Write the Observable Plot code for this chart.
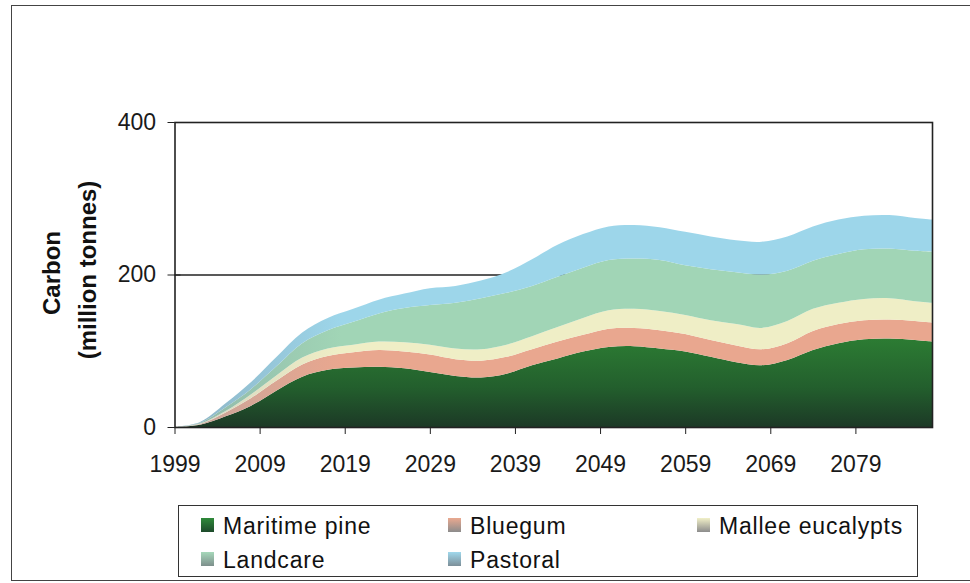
<!DOCTYPE html>
<html>
<head>
<meta charset="utf-8">
<script src="https://cdn.jsdelivr.net/npm/d3@7"></script>
<script src="https://cdn.jsdelivr.net/npm/@observablehq/plot@0.6"></script>
<style>
  body { margin: 0; background: #fff; font-family: "Liberation Sans", Arial, sans-serif; }
  #wrap { position: relative; width: 970px; height: 583px; overflow: hidden; }
  #frame { position: absolute; left: 11px; top: 5px; width: 970px; height: 576px; border: 1.5px solid #444; box-sizing: border-box; }
  #chart { position: absolute; left: 0; top: 0; }
  #legend { position: absolute; left: 178px; top: 505px; width: 740px; height: 72px; border: 1.5px solid #333; box-sizing: border-box; }
  .sw { position: absolute; width: 13px; height: 14px; }
  .lt { position: absolute; font-size: 23px; line-height: 23px; color: #111; white-space: nowrap; letter-spacing: 0.8px; }
</style>
</head>
<body>
<div id="wrap">
  <div id="frame"></div>
  <div id="chart"></div>
  <div id="legend"></div>
</div>
<script>
// Carbon stored by planting type, million tonnes per projection year
const years        = [1999, 2002, 2005, 2008, 2011, 2014, 2017, 2020, 2023, 2026, 2029, 2032, 2035, 2038, 2041, 2044, 2047, 2050, 2053, 2056, 2059, 2062, 2065, 2068, 2071, 2074, 2077, 2080, 2083, 2086, 2088];
const maritimePine = [0, 3, 14, 28, 48, 66, 75, 78, 79, 77, 72, 67, 65, 70, 81, 90, 99, 105, 106, 103, 99, 92, 85, 81, 88, 101, 110, 115, 116, 114, 112];
const bluegum      = [0, 1, 5, 10, 13, 16, 18, 20, 22, 22, 23, 22, 22, 22, 21, 22, 22, 24, 24, 24, 23, 22, 22, 21, 22, 25, 25, 25, 25, 25, 25];
const mallee       = [0, 0.5, 2, 5, 7, 9, 10, 10, 11, 12, 13, 14, 15, 16, 17, 19, 22, 24, 25, 25, 25, 26, 28, 28, 29, 29, 28, 28, 28, 26, 26];
const landcare     = [0, 1, 5, 7, 12, 19, 24, 30, 37, 45, 52, 60, 67, 68, 66, 66, 66, 66, 66, 67, 65, 67, 68, 70, 66, 63, 64, 65, 65, 66, 67];
const pastoral     = [0, 1, 5, 9, 12, 14, 16, 17, 18, 19, 22, 22, 23, 27, 35, 42, 44, 44, 44, 43, 44, 43, 42, 43, 45, 45, 45, 44, 44, 43, 42];

const seriesNames = ["Maritime pine", "Bluegum", "Mallee eucalypts", "Landcare", "Pastoral"];
const seriesValues = [maritimePine, bluegum, mallee, landcare, pastoral];
const xTicks = [1999, 2009, 2019, 2029, 2039, 2049, 2059, 2069, 2079];
const yTicks = [0, 200, 400];

// fills: [id, main colour, faded colour, vertical?]
const fills = [
  ["g-pine", "#2c7c33", "#1c3926", true],
  ["g-bluegum", "#e9a78f", "#c4a49b", false],
  ["g-mallee", "#efeec6", "#d3d3bf", false],
  ["g-landcare", "#a1d5b6", "#8fb5a8", false],
  ["g-pastoral", "#9dd6ea", "#8cb2c3", false]
];
const swatches = [
  ["#2f8a3a", "#1d4a2b"],
  ["#eaa990", "#8c8c8c"],
  ["#f1f0c8", "#8c8c8c"],
  ["#a6d8ba", "#7d8f8c"],
  ["#a0d8ec", "#7d8f99"]
];

const rows = [];
years.forEach((yr, i) => {
  seriesNames.forEach((name, k) => rows.push({year: yr, series: name, value: seriesValues[k][i]}));
});

const chart = Plot.plot({
  width: 970,
  height: 490,
  marginLeft: 174.5,
  marginRight: 38,
  marginTop: 122,
  marginBottom: 63,
  style: {fontFamily: "'Liberation Sans', Arial, sans-serif", fontSize: "23px", color: "#1a1a1a", background: "transparent"},
  x: {domain: [1999, 2088]},
  y: {domain: [0, 400]},
  color: {domain: seriesNames, range: fills.map(f => `url(#${f[0]})`)},
  marks: [
    Plot.ruleY([200], {stroke: "#222", strokeWidth: 1.5}),
    Plot.areaY(rows, {x: "year", y: "value", z: "series", fill: "series", curve: "catmull-rom", order: seriesNames}),
    Plot.frame({stroke: "#222", strokeWidth: 1.6}),
    Plot.axisX({ticks: xTicks, tickFormat: d => String(d), tickSize: 7, tickPadding: 21, label: null, stroke: "#222"}),
    Plot.axisY({ticks: yTicks, tickSize: 7, tickPadding: 12, label: null, stroke: "#222"}),
    Plot.axisY({ticks: yTicks, tickSize: -6, tickFormat: () => "", label: null, stroke: "#222"})
  ]
});
document.getElementById("chart").appendChild(chart);

// gradient definitions referenced by the area fills
const svg = d3.select(chart);
const defs = svg.insert("defs", ":first-child");
fills.forEach(([id, main, faded, vertical]) => {
  const g = defs.append("linearGradient").attr("id", id)
    .attr("x1", 0).attr("y1", 0).attr("x2", vertical ? 0 : 1).attr("y2", vertical ? 1 : 0);
  if (vertical) {
    g.append("stop").attr("offset", 0).attr("stop-color", main);
    g.append("stop").attr("offset", 0.55).attr("stop-color", "#235f2d");
    g.append("stop").attr("offset", 1).attr("stop-color", faded);
  } else {
    g.append("stop").attr("offset", 0).attr("stop-color", faded);
    g.append("stop").attr("offset", 0.22).attr("stop-color", main);
    g.append("stop").attr("offset", 1).attr("stop-color", main);
  }
});

// rotated axis title
const title = svg.append("g").attr("font-weight", "bold").attr("font-size", 24).attr("fill", "#111")
  .attr("text-anchor", "middle");
title.append("text").attr("transform", "translate(52,273) rotate(-90)").attr("dy", "0.35em").text("Carbon");
title.append("text").attr("transform", "translate(88,270) rotate(-90)").attr("dy", "0.35em").text("(million tonnes)");

// legend
const legend = document.getElementById("legend");
const pos = [[22, 9], [269, 9], [518, 9], [22, 43], [269, 43]];
seriesNames.forEach((name, k) => {
  const [lx, ly] = pos[k];
  const sw = document.createElement("div");
  sw.className = "sw";
  sw.style.left = lx + "px";
  sw.style.top = (ly + 3) + "px";
  sw.style.background = `linear-gradient(${swatches[k][0]}, ${swatches[k][1]})`;
  legend.appendChild(sw);
  const t = document.createElement("div");
  t.className = "lt";
  t.style.left = (lx + 22) + "px";
  t.style.top = ly + "px";
  t.textContent = name;
  legend.appendChild(t);
});
</script>
</body>
</html>
